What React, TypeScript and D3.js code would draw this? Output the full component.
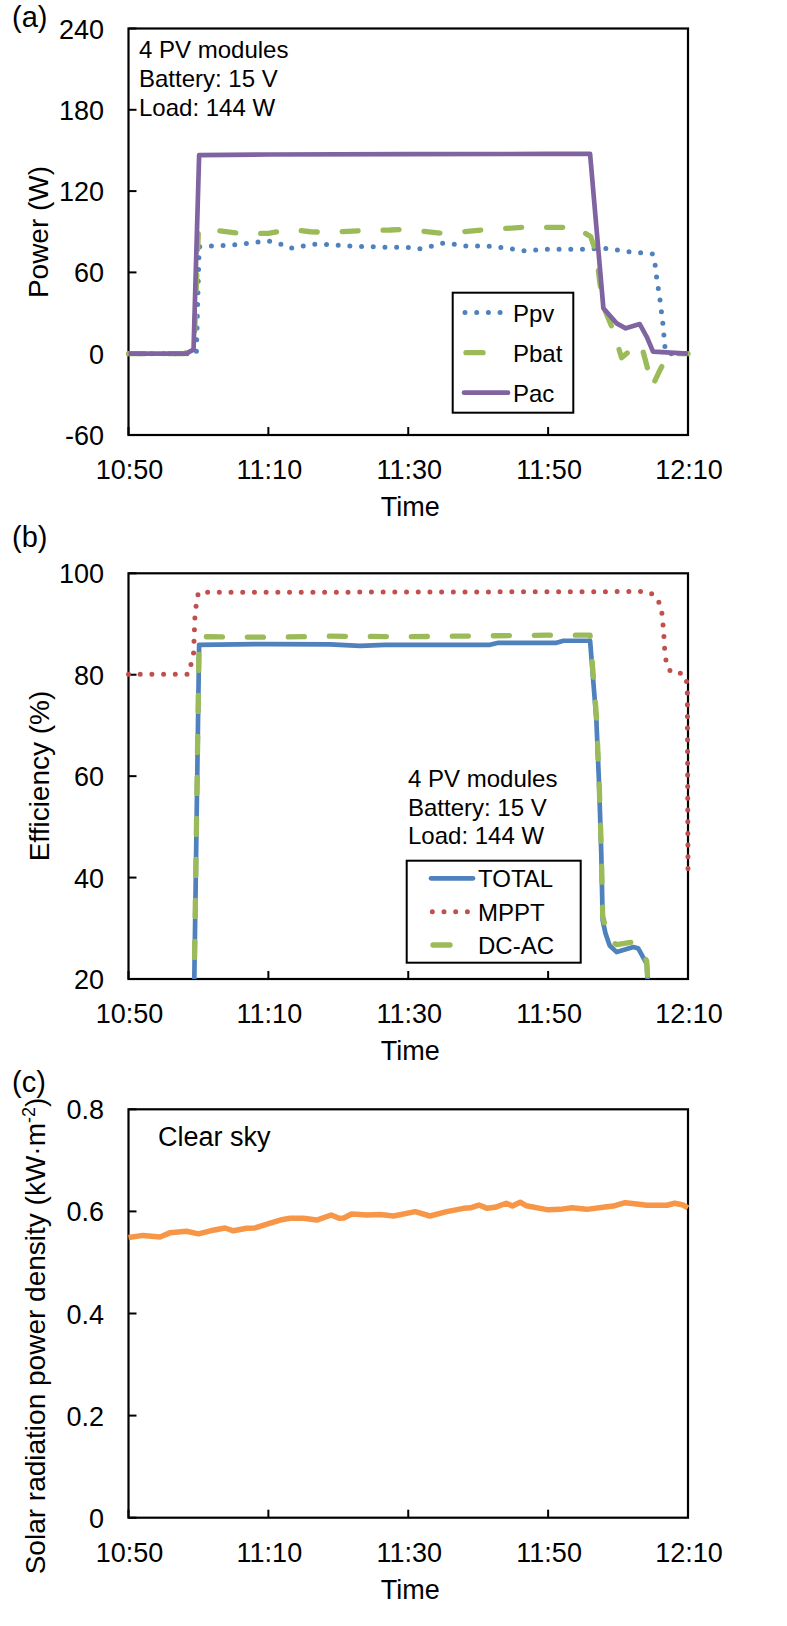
import React from 'react';
import * as d3 from 'd3';

// ---------- axes ----------
const timeTicks = [0, 20, 40, 60, 80]; // minutes after 10:50
const timeTickLabels = ['10:50', '11:10', '11:30', '11:50', '12:10'];
const powerTicks = [-60, 0, 60, 120, 180, 240];
const effTicks = [20, 40, 60, 80, 100];
const solarTicks = [0, 0.2, 0.4, 0.6, 0.8];
const solarTickLabels = ['0', '0.2', '0.4', '0.6', '0.8'];

// ---------- panel (a) power ----------
const ppvTime = [0, 9.7, 10.1, 15, 18.2, 20, 21.7, 23.1, 26.4, 28.2, 31.7, 36.7, 39.8, 41.5, 43.1, 44.8, 46.4, 48.1, 51.4, 54.8, 56.4, 59.8, 64.8, 68.1, 71.5, 74.9, 75.3, 75.5, 76.0, 76.4, 76.7, 77.0, 80];
const ppvValue = [0, 0, 79, 80.2, 82.2, 83.2, 81, 77.8, 80.7, 80.7, 79.5, 78.5, 78.5, 77.3, 79, 81.5, 81, 79.5, 79.5, 77.3, 76, 77, 77, 77.8, 75.3, 73.6, 65.5, 56.8, 39.6, 22.4, 5.2, 0, 0];

const pbatTime = [0, 8.0, 8.8, 9.4, 10.0, 12, 16, 20, 23.1, 26, 28.8, 33.1, 37.4, 39.3, 45, 50.7, 56.4, 62.2, 63.8, 66.1, 66.9, 67.4, 68.1, 69.3, 70.5, 72.9, 73.4, 74.9, 76.0, 77.2, 80];
const pbatValue = [0, 0, 4, 8, 91.3, 91.3, 88.8, 88.8, 91.8, 90, 89.5, 90.8, 91.3, 91.8, 88.8, 91.3, 93.3, 93.3, 93.8, 86.3, 74, 52, 32.3, 17.5, -3, 7.5, 5, -24, -12, 0, 0];

const pacTime = [0, 8.2, 9.3, 10.1, 20, 40, 60, 66.0, 67.9, 69.8, 71.1, 73.1, 74.1, 75.0, 80];
const pacValue = [0, 0, 3, 146.6, 147, 147.3, 147.4, 147.4, 33.5, 22.4, 18.7, 21.9, 12.5, 1.5, 0];

// ---------- panel (b) efficiency ----------
const totalTime = [9.2, 10.1, 20, 28.8, 33.1, 36.7, 51.7, 52.9, 61.2, 62.2, 66.0, 66.9, 67.3, 67.6, 67.8, 68.2, 68.8, 69.8, 72.2, 72.9, 74.1, 75];
const totalValue = [0, 85.9, 86.05, 86, 85.7, 85.9, 85.9, 86.3, 86.3, 86.7, 86.7, 71, 57.9, 44.7, 31.6, 29, 26.6, 25.3, 26.3, 26, 23, 0];

const mpptTime = [0, 8.6, 9.3, 9.5, 9.7, 10.0, 40, 74.3, 75.5, 76.2, 76.5, 76.7, 77.0, 77.7, 79.3, 79.9, 80];
const mpptValue = [80.1, 80.1, 84.2, 91.4, 94, 96.25, 96.3, 96.4, 95.4, 93.1, 88.8, 84.2, 81.6, 80.3, 80.3, 78.3, 41.5];

const dcacTime = [9.2, 10.1, 20, 28.8, 40, 59.8, 66.0, 66.9, 67.3, 67.6, 67.8, 68.2, 68.8, 69.8, 72.2, 72.9, 74.1, 75];
const dcacValue = [0, 87.5, 87.4, 87.6, 87.5, 87.8, 87.8, 72, 58.5, 45.5, 32.5, 30, 27.5, 26.8, 27.3, 26.8, 23.5, 0];

// ---------- panel (c) solar radiation ----------
const solarTime = [0, 2.1, 4.5, 5.9, 8.3, 10, 11.7, 13.8, 15, 16.9, 18.1, 19.8, 21.7, 23.1, 25, 26.9, 29, 30.1, 30.8, 31.9, 34.1, 36, 37.9, 41, 43.1, 45.5, 47.9, 48.9, 50.1, 51.3, 52.4, 54, 54.9, 56, 56.9, 60, 61.7, 63.4, 65.5, 68.4, 69.3, 71, 72.7, 74.1, 77, 78.1, 79.3, 80];
const solarValue = [0.549, 0.553, 0.550, 0.558, 0.561, 0.556, 0.562, 0.5675, 0.562, 0.567, 0.5675, 0.575, 0.583, 0.5865, 0.5865, 0.583, 0.593, 0.5865, 0.587, 0.595, 0.593, 0.594, 0.591, 0.5995, 0.591, 0.5995, 0.606, 0.607, 0.6125, 0.606, 0.608, 0.616, 0.6105, 0.618, 0.611, 0.603, 0.604, 0.607, 0.604, 0.609, 0.6105, 0.617, 0.6145, 0.612, 0.612, 0.616, 0.6125, 0.607];

const annotationLines = ['4 PV modules', 'Battery: 15 V', 'Load: 144 W'];

// ---------- styles ----------
const FONT = '"Liberation Sans", Arial, Helvetica, sans-serif';
const W = 787;
const H = 1626;
const LEFT = 128.5;
const RIGHT = 688;

const BLUE = '#4F81BD';
const GREEN = '#9BBB59';
const PURPLE = '#8064A2';
const RED = '#C0504D';
const ORANGE = '#F79646';

type Style = { color: string; width: number; dash?: string };
const dotted = (color: string): Style => ({ color, width: 5, dash: '0 11.7' });
const dashed = (color: string): Style => ({ color, width: 5.3, dash: '16 25' });
const solid = (color: string, width = 4.7): Style => ({ color, width });

type Series = { t: number[]; v: number[]; style: Style };

function Panel(props: {
  top: number;
  bottom: number;
  domain: [number, number];
  ticks: number[];
  tickLabels: string[];
  series: Series[];
  clipId: string;
  children?: React.ReactNode;
}) {
  const { top, bottom, domain, ticks, tickLabels, series, clipId, children } = props;
  const x = d3.scaleLinear().domain([0, 80]).range([LEFT, RIGHT]);
  const y = d3.scaleLinear().domain(domain).range([bottom, top]);
  const line = d3
    .line<[number, number]>()
    .x((d) => x(d[0]))
    .y((d) => y(d[1]));
  return (
    <g>
      <defs>
        <clipPath id={clipId}>
          <rect x={LEFT - 4} y={top} width={RIGHT - LEFT + 8} height={bottom - top} />
        </clipPath>
      </defs>
      {ticks.map((t, i) => (
        <g key={'y' + i}>
          <line x1={LEFT} x2={LEFT + 8} y1={y(t)} y2={y(t)} stroke="#000" strokeWidth={2} />
          <text x={104} y={y(t) + 10} textAnchor="end" fontSize={27}>
            {tickLabels[i]}
          </text>
        </g>
      ))}
      {timeTicks.map((t, i) => (
        <g key={'x' + i}>
          <line x1={x(t)} x2={x(t)} y1={bottom} y2={bottom - 8} stroke="#000" strokeWidth={2} />
          <text x={x(t) + 1} y={bottom + 44} textAnchor="middle" fontSize={27}>
            {timeTickLabels[i]}
          </text>
        </g>
      ))}
      <text x={(LEFT + RIGHT) / 2 + 2} y={bottom + 81} textAnchor="middle" fontSize={27}>
        Time
      </text>
      <rect x={LEFT} y={top} width={RIGHT - LEFT} height={bottom - top} fill="none" stroke="#000" strokeWidth={2.2} />
      <g clipPath={`url(#${clipId})`}>
        {series.map((s, i) => (
          <path
            key={i}
            d={line(s.t.map((t, j) => [t, s.v[j]] as [number, number])) || ''}
            fill="none"
            stroke={s.style.color}
            strokeWidth={s.style.width}
            strokeDasharray={s.style.dash}
            strokeLinecap={s.style.dash ? 'round' : 'butt'}
            strokeLinejoin="round"
          />
        ))}
      </g>
      {children}
    </g>
  );
}

function LegendRow(props: { x1: number; x2: number; y: number; style: Style; label: string; tx: number }) {
  const { x1, x2, y, style, label, tx } = props;
  return (
    <g>
      <line
        x1={x1}
        x2={x2}
        y1={y}
        y2={y}
        stroke={style.color}
        strokeWidth={style.width}
        strokeDasharray={style.dash && style.dash.startsWith('0') ? style.dash : undefined}
        strokeLinecap="round"
      />
      <text x={tx} y={y + 9} fontSize={24}>
        {label}
      </text>
    </g>
  );
}

export default function App() {
  const ppvS = dotted(BLUE);
  const pbatS = dashed(GREEN);
  const pacS = solid(PURPLE, 4.7);
  const totalS = solid(BLUE, 4.7);
  const mpptS = dotted(RED);
  const dcacS = dashed(GREEN);
  const solarS = solid(ORANGE, 5.5);

  return (
    <svg
      width={W}
      height={H}
      viewBox={`0 0 ${W} ${H}`}
      style={{ position: 'absolute', left: 0, top: 0, background: '#fff' }}
      fontFamily={FONT}
    >
      <rect x={0} y={0} width={W} height={H} fill="#fff" />

      {/* (a) */}
      <text x={12} y={27} fontSize={29}>(a)</text>
      <text transform="translate(48,232) rotate(-90)" textAnchor="middle" fontSize={28}>
        Power (W)
      </text>
      <Panel
        top={28.5}
        bottom={435}
        domain={[-60, 240]}
        ticks={powerTicks}
        tickLabels={powerTicks.map(String)}
        clipId="clipA"
        series={[
          { t: ppvTime, v: ppvValue, style: ppvS },
          { t: pbatTime, v: pbatValue, style: pbatS },
          { t: pacTime, v: pacValue, style: pacS },
        ]}
      >
        {annotationLines.map((s, i) => (
          <text key={i} x={139} y={58 + i * 29} fontSize={24}>
            {s}
          </text>
        ))}
        <rect x={452.7} y={292.7} width={120.6} height={120} fill="#fff" stroke="#000" strokeWidth={2} />
        <LegendRow x1={465} x2={502} y={312.5} style={ppvS} label="Ppv" tx={513} />
        <LegendRow x1={466} x2={483} y={352.7} style={pbatS} label="Pbat" tx={513} />
        <LegendRow x1={464} x2={508} y={392.7} style={pacS} label="Pac" tx={513} />
      </Panel>

      {/* (b) */}
      <text x={12} y={547} fontSize={29}>(b)</text>
      <text transform="translate(49,776) rotate(-90)" textAnchor="middle" fontSize={28}>
        Efficiency (%)
      </text>
      <Panel
        top={573.3}
        bottom={979}
        domain={[20, 100]}
        ticks={effTicks}
        tickLabels={effTicks.map(String)}
        clipId="clipB"
        series={[
          { t: totalTime, v: totalValue, style: totalS },
          { t: mpptTime, v: mpptValue, style: mpptS },
          { t: dcacTime, v: dcacValue, style: dcacS },
        ]}
      >
        {annotationLines.map((s, i) => (
          <text key={i} x={408} y={787 + i * 28.7} fontSize={24}>
            {s}
          </text>
        ))}
        <rect x={406.7} y={860.7} width={174} height={102} fill="#fff" stroke="#000" strokeWidth={2} />
        <LegendRow x1={431} x2={473} y={878.3} style={totalS} label="TOTAL" tx={478} />
        <LegendRow x1={432.3} x2={470} y={911.7} style={mpptS} label="MPPT" tx={478} />
        <LegendRow x1={433} x2={450} y={945} style={dcacS} label="DC-AC" tx={478} />
      </Panel>

      {/* (c) */}
      <text x={12} y={1092} fontSize={29}>(c)</text>
      <text transform="translate(45,1336) rotate(-90)" textAnchor="middle" fontSize={28}>
        Solar radiation power density (kW·m
        <tspan dy={-10} fontSize={18}>-2</tspan>
        <tspan dy={10}>)</tspan>
      </text>
      <Panel
        top={1109.3}
        bottom={1517.7}
        domain={[0, 0.8]}
        ticks={solarTicks}
        tickLabels={solarTickLabels}
        clipId="clipC"
        series={[{ t: solarTime, v: solarValue, style: solarS }]}
      >
        <text x={158} y={1146} fontSize={27}>
          Clear sky
        </text>
      </Panel>
    </svg>
  );
}
